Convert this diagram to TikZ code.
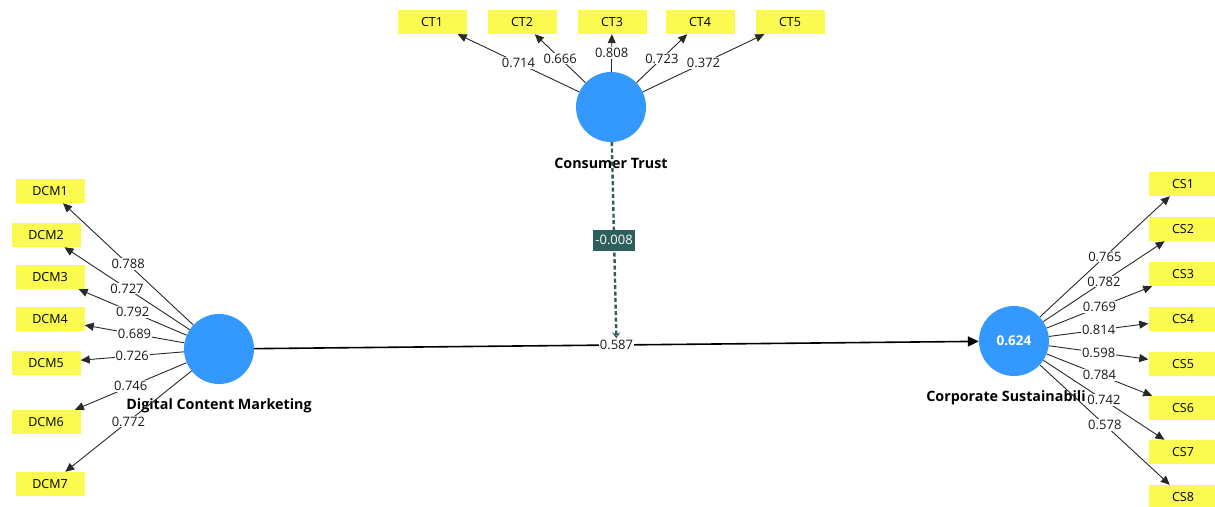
\documentclass[tikz,border=0pt]{standalone}
\usepackage{fontspec}
\setmainfont{Open Sans}
\usetikzlibrary{arrows.meta}
\definecolor{lvblue}{RGB}{51,153,255}
\definecolor{indyel}{RGB}{250,250,80}
\definecolor{modteal}{RGB}{45,96,92}
\definecolor{lnk}{RGB}{40,40,40}
\tikzset{
  lv/.style={circle,fill=lvblue,minimum size=70pt,inner sep=0pt},
  ind/.style={rectangle,fill=indyel,minimum width=69pt,minimum height=24pt,inner sep=0pt,font=\fontsize{12.5}{13}\selectfont},
  load/.style={draw=lnk,line width=0.9pt,-{Triangle[length=9pt,width=8pt]}},
  lbl/.style={fill=white,inner sep=1pt,font=\fontsize{13}{14}\selectfont,text=black!90},
  title/.style={font=\bfseries\fontsize{14.3}{16}\selectfont},
  path/.style={draw=black,line width=1.6pt,-{Triangle[length=11pt,width=10pt]}},
  mod/.style={draw=modteal,line width=2.4pt,dash pattern=on 4pt off 2.5pt,-{Stealth[open,length=6pt,width=8pt,line width=1pt]}},
  modlbl/.style={fill=modteal,text=white,inner sep=2pt,minimum height=21pt,font=\fontsize{13}{14}\selectfont}
}
\begin{document}
\begin{tikzpicture}[x=1pt,y=-1pt]
\useasboundingbox (0,0) rectangle (1215,506);
% latent variables
\node[lv] (ct) at (611,107) {};
\node[lv] (dcm) at (219,349) {};
\node[lv,text=white,font=\bfseries\fontsize{13.5}{14}\selectfont] (cs) at (1014,341) {0.624};
\node[title] (ctt) at (611,163) {Consumer Trust};
\node[title] (dcmt) at (219,406) {Digital Content Marketing};
\node[title] (cst) at (1006,398) {Corporate Sustainabili};
% CT indicators
\node[ind] (ct1) at (432,22) {CT1};
\node[ind] (ct2) at (522,22) {CT2};
\node[ind] (ct3) at (612,22) {CT3};
\node[ind] (ct4) at (700,22) {CT4};
\node[ind] (ct5) at (790,22) {CT5};
% DCM indicators
\node[ind] (dcm1) at (50,191) {DCM1};
\node[ind] (dcm2) at (46,235) {DCM2};
\node[ind] (dcm3) at (50,277) {DCM3};
\node[ind] (dcm4) at (50,319) {DCM4};
\node[ind] (dcm5) at (46,363) {DCM5};
\node[ind] (dcm6) at (46,422) {DCM6};
\node[ind] (dcm7) at (50,484) {DCM7};
% CS indicators
\node[ind] (cs1) at (1183,184) {CS1};
\node[ind] (cs2) at (1183,229) {CS2};
\node[ind] (cs3) at (1183,274) {CS3};
\node[ind] (cs4) at (1183,319) {CS4};
\node[ind] (cs5) at (1183,364) {CS5};
\node[ind] (cs6) at (1183,408) {CS6};
\node[ind] (cs7) at (1183,452) {CS7};
\node[ind] (cs8) at (1183,497) {CS8};
% loadings CT
\draw[load] (ct) -- node[lbl]{0.714} (ct1);
\draw[load] (ct) -- node[lbl]{0.666} (ct2);
\draw[load] (ct) -- node[lbl]{0.808} (ct3);
\draw[load] (ct) -- node[lbl]{0.723} (ct4);
\draw[load] (ct) -- node[lbl]{0.372} (ct5);
% loadings DCM
\draw[load] (dcm) -- node[lbl]{0.788} (dcm1);
\draw[load] (dcm) -- node[lbl]{0.727} (dcm2);
\draw[load] (dcm) -- node[lbl]{0.792} (dcm3);
\draw[load] (dcm) -- node[lbl]{0.689} (dcm4);
\draw[load] (dcm) -- node[lbl]{0.726} (dcm5);
\draw[load] (dcm) -- node[lbl]{0.746} (dcm6);
\draw[load] (dcm) -- node[lbl]{0.772} (dcm7);
% loadings CS
\draw[load] (cs) -- node[lbl]{0.765} (cs1);
\draw[load] (cs) -- node[lbl]{0.782} (cs2);
\draw[load] (cs) -- node[lbl]{0.769} (cs3);
\draw[load] (cs) -- node[lbl]{0.814} (cs4);
\draw[load] (cs) -- node[lbl]{0.598} (cs5);
\draw[load] (cs) -- node[lbl]{0.784} (cs6);
\draw[load] (cs) -- node[lbl]{0.742} (cs7);
\draw[load] (cs) -- node[lbl]{0.578} (cs8);
% structural path
\draw[path] (dcm) -- node[lbl] (pl) {0.587} (cs);
% moderation
\draw[mod] (ct) -- node[modlbl]{-0.008} (pl);
\end{tikzpicture}
\end{document}
